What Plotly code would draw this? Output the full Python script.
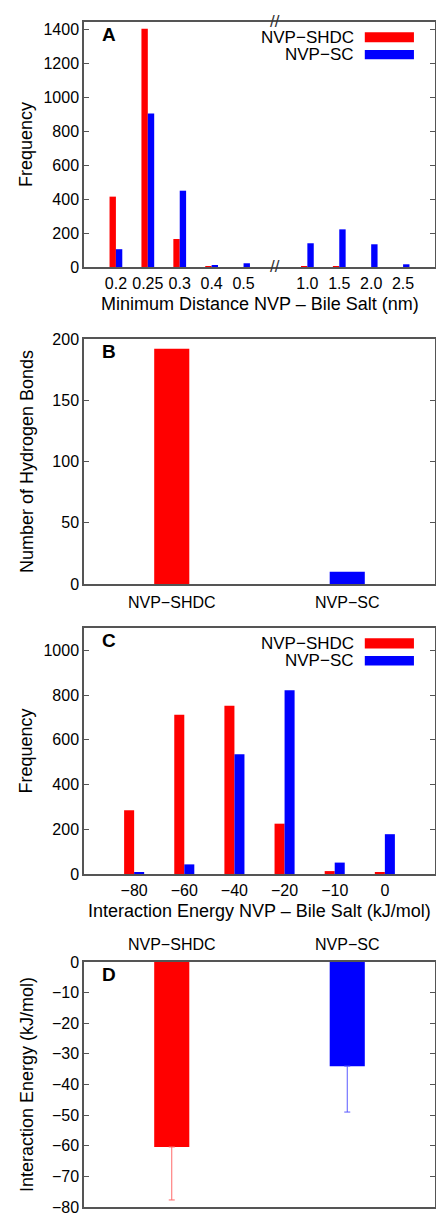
import plotly.graph_objects as go

# ---------------- data ----------------
series_names = ["NVP\u2212SHDC", "NVP\u2212SC"]

# Panel A: minimum distance histogram
dist_labels = ["0.2", "0.25", "0.3", "0.4", "0.5", "1.0", "1.5", "2.0", "2.5"]
dist_shdc = [415, 1405, 165, 3, 0, 5, 3, 0, 0]
dist_sc = [105, 905, 450, 8, 22, 140, 222, 134, 16]

# Panel B: hydrogen bonds
hb_categories = ["NVP\u2212SHDC", "NVP\u2212SC"]
hb_values = [192, 10]

# Panel C: interaction energy histogram
energy_labels = ["\u221280", "\u221260", "\u221240", "\u221220", "\u221210", "0"]
energy_shdc = [285, 712, 752, 225, 13, 9]
energy_sc = [5, 43, 535, 822, 51, 178]

# Panel D: mean interaction energy with error
ie_categories = ["NVP\u2212SHDC", "NVP\u2212SC"]
ie_values = [-60.4, -34.0]
ie_errors = [17.3, 15.0]

x_titles = ["Minimum Distance NVP \u2013 Bile Salt (nm)",
            "Interaction Energy NVP \u2013 Bile Salt (kJ/mol)"]

RED = "#ff0000"
BLUE = "#0000ff"
FONT = "Liberation Sans, Arial, Helvetica, sans-serif"
AX = "#555555"

# break in axis A: leave one empty slot after the fifth category
BREAK_AFTER = 5
dist_pos = [i if i < BREAK_AFTER else i + 1 for i in range(len(dist_labels))]

fig = go.Figure()

# Panel A
fig.add_trace(go.Bar(x=dist_pos, y=dist_shdc, name=series_names[0], marker_color=RED,
                     marker_line_width=0, xaxis="x", yaxis="y", showlegend=False))
fig.add_trace(go.Bar(x=dist_pos, y=dist_sc, name=series_names[1], marker_color=BLUE,
                     marker_line_width=0, xaxis="x", yaxis="y", showlegend=False))
# Panel B
fig.add_trace(go.Bar(x=hb_categories, y=hb_values, marker_color=[RED, BLUE],
                     marker_line_width=0, width=0.2, xaxis="x2", yaxis="y2", showlegend=False))
# Panel C
fig.add_trace(go.Bar(x=energy_labels, y=energy_shdc, name=series_names[0], marker_color=RED,
                     marker_line_width=0, xaxis="x3", yaxis="y3", showlegend=False))
fig.add_trace(go.Bar(x=energy_labels, y=energy_sc, name=series_names[1], marker_color=BLUE,
                     marker_line_width=0, xaxis="x3", yaxis="y3", showlegend=False))
# Panel D
err_colors = ["#ff6a6a", "#5a5aff"]
for i, (c, col) in enumerate(zip(ie_categories, [RED, BLUE])):
    fig.add_trace(go.Bar(x=[c], y=[ie_values[i]], name=c, marker_color=col, marker_line_width=0,
                         width=0.2, offsetgroup="d", xaxis="x4", yaxis="y4", showlegend=False,
                         error_y=dict(type="data", symmetric=False, array=[0],
                                      arrayminus=[ie_errors[i]], color=err_colors[i],
                                      thickness=1, width=3)))

H = 1213.0
def dom(top, bottom):
    return [1 - bottom / H, 1 - top / H]

TICKF = dict(size=16, color="black")
common_x = dict(showline=True, mirror=True, linecolor=AX, linewidth=1.5, ticks="",
                showgrid=False, zeroline=False, tickfont=TICKF, automargin=False,
                ticklabeloverflow="allow")
common_y = dict(showline=True, mirror="ticks", linecolor=AX, linewidth=1.5, ticks="inside",
                ticklen=5, tickcolor=AX, tickwidth=1.2, showgrid=False, zeroline=False,
                tickfont=TICKF, ticklabelstandoff=0, automargin=False,
                ticklabeloverflow="allow")

def xa(anchor, **kw):
    d = dict(common_x); d["anchor"] = anchor; d.update(kw); return d

def ya(anchor, domain, **kw):
    d = dict(common_y); d["anchor"] = anchor; d["domain"] = domain; d.update(kw); return d

tfont = dict(size=18, color="black")

fig.update_layout(
    width=436, height=1213,
    margin=dict(l=84, r=1, t=0, b=0, autoexpand=False),
    paper_bgcolor="white", plot_bgcolor="white",
    font=dict(family=FONT, color="black"),
    barmode="group", bargap=0.6, bargroupgap=0,
    xaxis=xa("y", range=[-1, 10], tickmode="array", tickvals=dist_pos, ticktext=dist_labels,
             ticklabelstandoff=1),
    yaxis=ya("x", dom(22, 267), range=[0, 1445], dtick=200,
             title=dict(text="Frequency", font=tfont, standoff=6)),
    xaxis2=xa("y2", range=[-0.5, 1.5], ticklabelstandoff=3),
    yaxis2=ya("x2", dom(339, 584), range=[0, 200], dtick=50,
              title=dict(text="Number of Hydrogen Bonds", font=tfont, standoff=14)),
    xaxis3=xa("y3", range=[-1, 6], ticklabelstandoff=1),
    yaxis3=ya("x3", dom(628, 874), range=[0, 1100], dtick=200,
              title=dict(text="Frequency", font=tfont, standoff=6)),
    xaxis4=xa("y4", range=[-0.5, 1.5], side="top", ticklabelstandoff=4),
    yaxis4=ya("x4", dom(962, 1207), range=[-80, 0], dtick=10,
              title=dict(text="Interaction Energy (kJ/mol)", font=tfont, standoff=14)),
)

# x-axis titles of the histograms
for ax, txt in zip(["", "3"], x_titles):
    fig.add_annotation(text=txt, xref="x%s domain" % ax, yref="y%s domain" % ax,
                       x=0.5, y=-0.151, xanchor="center", yanchor="middle", showarrow=False,
                       font=tfont)

# panel letters
for letter, ax in zip("ABCD", ["", "2", "3", "4"]):
    fig.add_annotation(text="<b>%s</b>" % letter, xref="x%s domain" % ax, yref="y%s domain" % ax,
                       x=0.072, y=0.95, showarrow=False, font=dict(size=19, color="black"),
                       xanchor="center", yanchor="middle")

# legends (text left of a wide key, as in the original)
legend_rows = [(0.937, 0.958, 0.917), (0.867, 0.886, 0.848)]
for ax in ["", "3"]:
    for name, col, (yc, y1, y0) in zip(series_names, [RED, BLUE], legend_rows):
        fig.add_annotation(text=name, xref="x%s domain" % ax, yref="y%s domain" % ax,
                           x=0.775, y=yc, xanchor="right", yanchor="middle", showarrow=False,
                           font=dict(size=17, color="black"))
        fig.add_shape(type="rect", xref="x%s domain" % ax, yref="y%s domain" % ax,
                      x0=0.80, x1=0.94, y0=y0, y1=y1, fillcolor=col, line_width=0)

# axis break marks
for yv in [0, 1]:
    fig.add_annotation(text="//", xref="x", yref="y domain", x=BREAK_AFTER, y=yv,
                       showarrow=False, font=dict(size=17, color="#333333"),
                       xanchor="center", yanchor="middle")

fig.write_html("out.html",
               config={"displayModeBar": False},
               post_script="document.body.style.margin='0';document.body.style.padding='0';"
                           "document.body.style.overflow='hidden';")
